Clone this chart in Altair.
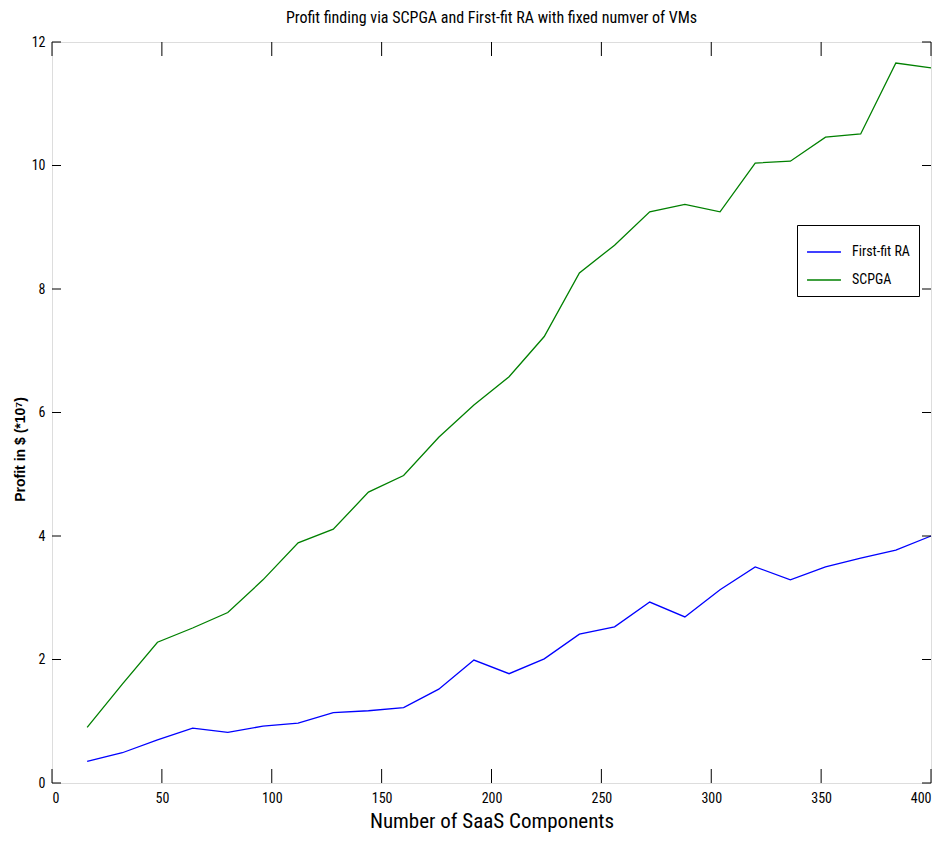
import altair as alt
import pandas as pd

components = [16, 32, 48, 64, 80, 96, 112, 128, 144, 160, 176, 192, 208,
              224, 240, 256, 272, 288, 304, 320, 336, 352, 368, 384, 400]
first_fit = [0.35, 0.49, 0.70, 0.89, 0.82, 0.92, 0.97, 1.14, 1.17, 1.22, 1.52, 1.99, 1.77,
             2.01, 2.41, 2.53, 2.93, 2.69, 3.13, 3.50, 3.29, 3.50, 3.64, 3.77, 4.00]
scpga = [0.90, 1.60, 2.28, 2.51, 2.76, 3.29, 3.89, 4.11, 4.71, 4.98, 5.60, 6.12, 6.58,
         7.23, 8.26, 8.71, 9.25, 9.37, 9.25, 10.04, 10.07, 10.46, 10.51, 11.66, 11.58]
series_names = ["First-fit RA", "SCPGA"]
series_colors = ["#0000FF", "#008000"]
x_ticks = [0, 50, 100, 150, 200, 250, 300, 350, 400]
y_ticks = [0, 2, 4, 6, 8, 10, 12]

W, H = 879, 741
FONT = "Liberation Sans Narrow, Arial Narrow, Roboto Condensed, Roboto, sans-serif"

rows = []
for i, c in enumerate(components):
    rows.append({"n": c, "profit": first_fit[i], "series": series_names[0]})
    rows.append({"n": c, "profit": scpga[i], "series": series_names[1]})
df = pd.DataFrame(rows)

xs = alt.Scale(domain=[0, 400], nice=False, zero=False)
ys = alt.Scale(domain=[0, 12], nice=False, zero=False)

lines = alt.Chart(df).mark_line(strokeWidth=1.3).encode(
    x=alt.X("n:Q", scale=xs,
            axis=alt.Axis(values=x_ticks, format="d", title="Number of SaaS Components",
                          grid=False, ticks=False, domain=False, labelPadding=8,
                          labelFontSize=14, labelFont=FONT, labelColor="#000",
                          titleFont=FONT, titleFontSize=21, titleFontWeight="normal",
                          titleColor="#000", titlePadding=5)),
    y=alt.Y("profit:Q", scale=ys,
            axis=alt.Axis(values=y_ticks, format="d", title="Profit in $ (*10⁷)", grid=False,
                          ticks=False, domain=False, labelPadding=7, labelFontSize=14,
                          labelFont=FONT, labelColor="#000",
                          titleFont="Liberation Sans, Arial, sans-serif",
                          titleFontSize=14, titleFontWeight="bold", titleColor="#000",
                          titleX=-32, titleY=407, titleAngle=270,
                          titleAlign="center", titleBaseline="middle")),
    color=alt.Color("series:N",
                    scale=alt.Scale(domain=series_names, range=series_colors),
                    legend=alt.Legend(title=None, orient="none", legendX=745, legendY=183,
                                      symbolType="stroke", symbolSize=1150,
                                      symbolStrokeWidth=1.5, labelFont=FONT,
                                      labelFontSize=14, labelColor="#000",
                                      strokeColor="#000", fillColor="#fff",
                                      padding=9, rowPadding=3, labelOffset=10,
                                      labelLimit=200)),
)

xt = pd.DataFrame({"t": x_ticks})
yt = pd.DataFrame({"t": y_ticks})

tb = alt.Chart(xt).mark_rule(color="#000", strokeWidth=1).encode(
    x=alt.X("t:Q", scale=xs), y=alt.value(H - 14), y2=alt.value(H))
tt = alt.Chart(xt).mark_rule(color="#000", strokeWidth=1).encode(
    x=alt.X("t:Q", scale=xs), y=alt.value(0), y2=alt.value(14))
tl = alt.Chart(yt).mark_rule(color="#000", strokeWidth=1).encode(
    y=alt.Y("t:Q", scale=ys), x=alt.value(0), x2=alt.value(9))
tr = alt.Chart(yt).mark_rule(color="#000", strokeWidth=1).encode(
    y=alt.Y("t:Q", scale=ys), x=alt.value(W - 9), x2=alt.value(W))

chart = alt.layer(lines, tb, tt, tl, tr).properties(
    width=W, height=H,
    title=alt.TitleParams("Profit finding via SCPGA and First-fit RA with fixed numver of VMs",
                          font=FONT, fontSize=16, fontWeight="normal", color="#000",
                          offset=9, anchor="middle"),
    autosize=alt.AutoSizeParams(type="none"),
    padding={"left": 44, "top": 34, "right": 5, "bottom": 50},
).configure_view(stroke="#000", strokeWidth=1.5).configure(background="#fff")

chart.save("out.html", embed_options={"renderer": "svg", "actions": False})
